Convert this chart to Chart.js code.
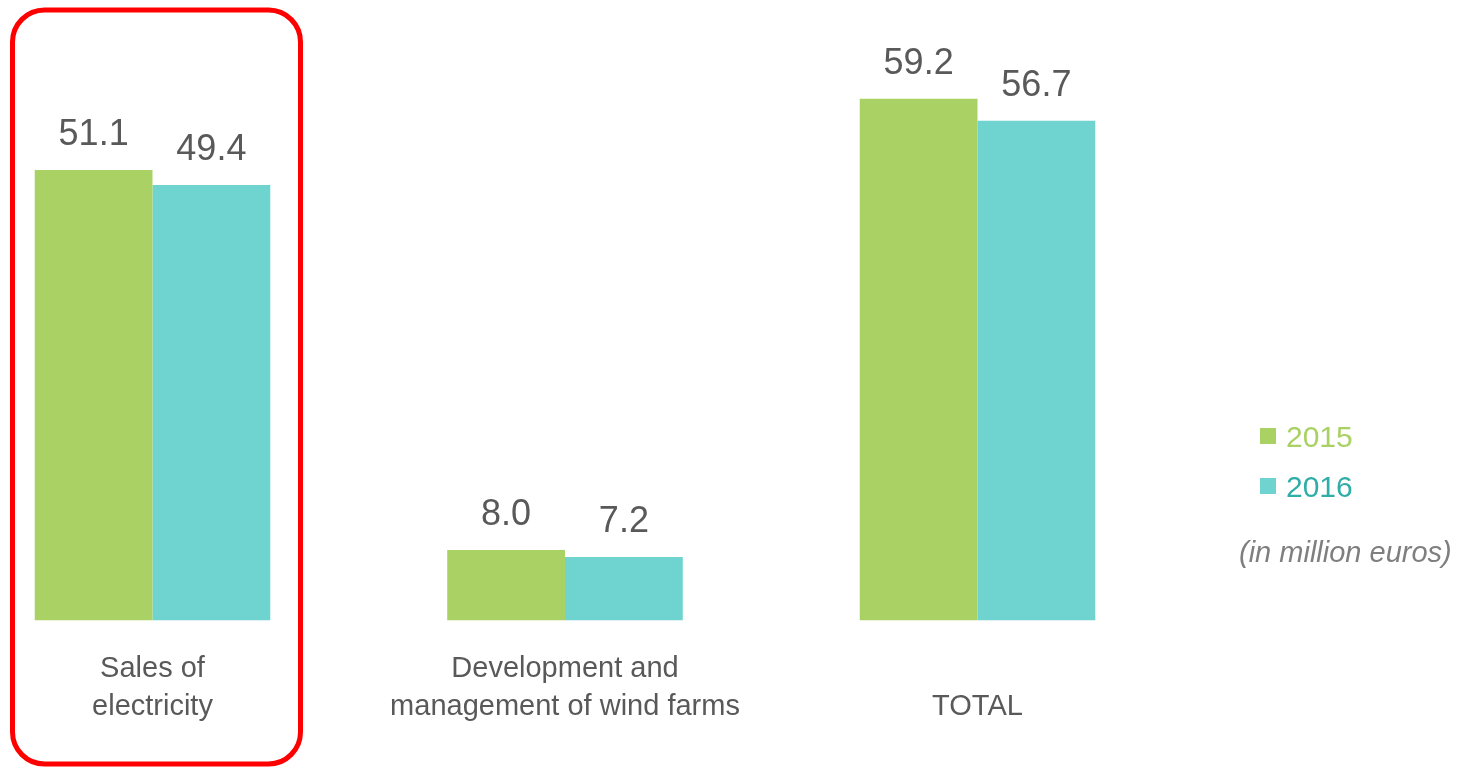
<!DOCTYPE html>
<html>
<head>
<meta charset="utf-8">
<script src="https://cdn.jsdelivr.net/npm/chart.js@4.4.1/dist/chart.umd.min.js"></script>
<style>
  html, body { margin: 0; padding: 0; background: #fff; overflow: hidden; }
  #wrap { position: relative; width: 1472px; height: 768px; overflow: hidden; }
  #myChart { position: absolute; left: -60px; top: 0; }
</style>
</head>
<body>
<div id="wrap">
  <canvas id="myChart" width="1532" height="768"></canvas>
</div>
<script>
const categories = [['Sales of', 'electricity'], ['Development and', 'management of wind farms'], ['', 'TOTAL']]
const years = ['2015', '2016']
const values2015 = [51.1, 8.0, 59.2]
const values2016 = [49.4, 7.2, 56.7]
const unitNote = '(in million euros)'

const OFF = 60 // canvas is shifted left so the first bar group can sit near the page edge
const FONT = '"Liberation Sans", Arial, sans-serif'
const barColors = ['#A9D164', '#6FD3D0']
const legendText = ['#A9D164', '#31ADA8']

// value labels over every bar
const valueLabels = {
    id: 'valueLabels',
    afterDatasetsDraw(chart) {
        const ctx = chart.ctx
        ctx.save()
        ctx.font = '36px ' + FONT
        ctx.fillStyle = '#595959'
        ctx.textAlign = 'center'
        ctx.textBaseline = 'alphabetic'
        chart.data.datasets.forEach((ds, i) => {
            chart.getDatasetMeta(i).data.forEach((bar, j) => {
                ctx.fillText(ds.data[j].toFixed(1), bar.x, bar.y - 25)
            })
        })
        ctx.restore()
    }
}

// red frame, legend, unit note
const extras = {
    id: 'extras',
    afterDraw(chart) {
        const ctx = chart.ctx
        const cx = chart.scales.x.getPixelForValue(0) + 4
        ctx.save()
        ctx.strokeStyle = '#FF0000'
        ctx.lineWidth = 5
        ctx.beginPath()
        ctx.roundRect(cx - 144, 10, 288, 754, 32)
        ctx.stroke()

        ctx.textAlign = 'left'
        ctx.textBaseline = 'alphabetic'
        ctx.font = '30px ' + FONT
        chart.data.datasets.forEach((ds, i) => {
            const y = 447 + i * 50
            ctx.fillStyle = barColors[i]
            ctx.fillRect(1260 + OFF, y - 19, 16, 16)
            ctx.fillStyle = legendText[i]
            ctx.fillText(ds.label, 1286 + OFF, y)
        })
        ctx.font = 'italic 29px ' + FONT
        ctx.fillStyle = '#7F7F7F'
        ctx.fillText(unitNote, 1239 + OFF, 562)
        ctx.restore()
    }
}

const ctx = document.getElementById('myChart').getContext('2d')
const myChart = new Chart(ctx, {
    type: 'bar',
    data: {
        labels: categories,
        datasets: [{
            label: years[0],
            data: values2015,
            backgroundColor: barColors[0],
            borderWidth: 0
        }, {
            label: years[1],
            data: values2016,
            backgroundColor: barColors[1],
            borderWidth: 0
        }]
    },
    options: {
        responsive: false,
        animation: false,
        devicePixelRatio: 1,
        categoryPercentage: 0.571,
        barPercentage: 1,
        layout: { padding: { left: 6.25, right: 288.25, top: 47.6, bottom: 0 } },
        plugins: {
            legend: { display: false },
            tooltip: { enabled: false }
        },
        scales: {
            x: {
                grid: { display: false, drawTicks: false, tickLength: 0 },
                border: { display: false },
                ticks: {
                    color: '#595959',
                    font: { family: FONT, size: 29, lineHeight: 1.31 },
                    padding: 29.5,
                    autoSkip: false,
                    maxRotation: 0
                },
                afterFit: s => { s.height = 147.5 }
            },
            y: {
                display: false,
                min: 0,
                max: 65
            }
        }
    },
    plugins: [valueLabels, extras]
})
</script>
</body>
</html>
